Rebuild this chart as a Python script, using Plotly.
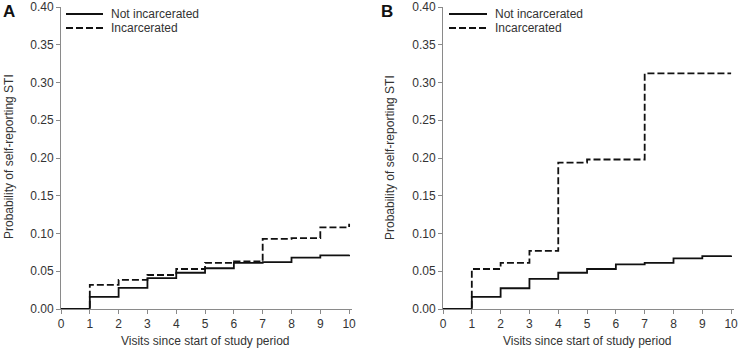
import plotly.graph_objects as go

visits = [0, 1, 2, 3, 4, 5, 6, 7, 8, 9, 10]
x_ticks = [0, 1, 2, 3, 4, 5, 6, 7, 8, 9, 10]
y_ticks = [0.00, 0.05, 0.10, 0.15, 0.20, 0.25, 0.30, 0.35, 0.40]

# Panel A
a_not_incarcerated = [0, 0.016, 0.028, 0.041, 0.048, 0.054, 0.061, 0.062, 0.068, 0.071, 0.072]
a_incarcerated = [0, 0.032, 0.0385, 0.045, 0.053, 0.061, 0.063, 0.093, 0.094, 0.108, 0.113]
# Panel B
b_not_incarcerated = [0, 0.016, 0.0275, 0.040, 0.048, 0.053, 0.059, 0.061, 0.067, 0.070, 0.071]
b_incarcerated = [0, 0.053, 0.061, 0.077, 0.194, 0.198, 0.198, 0.312, 0.312, 0.312, 0.312]

series_names = ["Not incarcerated", "Incarcerated"]
panel_letters = ["A", "B"]
x_title = "Visits since start of study period"
y_title = "Probability of self-reporting STI"

W, H = 740, 356
FONT = "Liberation Sans, Arial, sans-serif"
AXIS_COLOR = "#8a8a8a"
TEXT_COLOR = "#333333"
LINE_COLOR = "#111111"
DASH = "7px,3px"
LW = 1.8

fig = go.Figure()

panels = [
    ("x", "y", a_not_incarcerated, a_incarcerated),
    ("x2", "y2", b_not_incarcerated, b_incarcerated),
]
for xa, ya, solid, dashed in panels:
    fig.add_trace(go.Scatter(
        x=visits, y=solid, mode="lines", line=dict(shape="hv", color=LINE_COLOR, width=LW),
        name=series_names[0], xaxis=xa, yaxis=ya, cliponaxis=False, showlegend=False))
    fig.add_trace(go.Scatter(
        x=visits, y=dashed, mode="lines", line=dict(shape="hv", color=LINE_COLOR, width=LW, dash=DASH),
        name=series_names[1], xaxis=xa, yaxis=ya, cliponaxis=False, showlegend=False))

# pixel-based domains
ax_a = (61, 352)
ax_b = (443, 734)
y_dom = ((H - 309) / H, (H - 7) / H)

def xaxis(dom, anchor):
    return dict(domain=[dom[0] / W, dom[1] / W], range=[0, 10.1], anchor=anchor, automargin=False,
                tickmode="array", tickvals=x_ticks, ticktext=[str(v) for v in x_ticks],
                showline=True, linecolor=AXIS_COLOR, linewidth=1,
                ticks="outside", ticklen=4, tickcolor=AXIS_COLOR, tickwidth=1,
                showgrid=False, zeroline=False, ticklabeloverflow="allow",
                tickfont=dict(family=FONT, size=12, color=TEXT_COLOR))

def yaxis(anchor):
    return dict(domain=list(y_dom), range=[0, 0.4], anchor=anchor, automargin=False,
                tickmode="array", tickvals=y_ticks, ticktext=[f"{v:.2f}" for v in y_ticks],
                showline=True, linecolor=AXIS_COLOR, linewidth=1,
                ticks="outside", ticklen=4, tickcolor=AXIS_COLOR, tickwidth=1,
                showgrid=False, zeroline=False, ticklabeloverflow="allow",
                tickfont=dict(family=FONT, size=12, color=TEXT_COLOR))

fig.update_layout(
    template="none",
    width=W, height=H,
    margin=dict(l=0, r=0, t=0, b=0, pad=0),
    paper_bgcolor="white", plot_bgcolor="white",
    font=dict(family=FONT, size=12, color=TEXT_COLOR),
    showlegend=False,
    xaxis=xaxis(ax_a, "y"), yaxis=yaxis("x"),
    xaxis2=xaxis(ax_b, "y2"), yaxis2=yaxis("x2"),
)

annotations = []
shapes = []
# panel letters
for px, letter in [(9, panel_letters[0]), (387, panel_letters[1])]:
    annotations.append(dict(text=f"<b>{letter}</b>", x=px / W, y=1 - 11 / H, xref="paper", yref="paper",
                            xanchor="center", yanchor="middle", showarrow=False,
                            font=dict(family=FONT, size=17, color="#111111")))
# y titles
for px in [9, 390]:
    annotations.append(dict(text=y_title, x=px / W, y=1 - 157 / H, xref="paper", yref="paper",
                            xanchor="center", yanchor="middle", showarrow=False, textangle=-90,
                            font=dict(family=FONT, size=12, color=TEXT_COLOR)))
# x titles
for dom in [ax_a, ax_b]:
    cx = (dom[0] + dom[1] - 3) / 2
    annotations.append(dict(text=x_title, x=cx / W, y=1 - 341 / H, xref="paper", yref="paper",
                            xanchor="center", yanchor="middle", showarrow=False,
                            font=dict(family=FONT, size=12, color=TEXT_COLOR)))
# legends (sample lines + labels)
for x0, x1, tx in [(66, 103, 109), (449, 487, 493)]:
    for row_y, name, dash in [(14, series_names[0], "solid"), (28, series_names[1], DASH)]:
        shapes.append(dict(type="line", xref="paper", yref="paper",
                           x0=x0 / W, x1=x1 / W, y0=1 - row_y / H, y1=1 - row_y / H,
                           line=dict(color=LINE_COLOR, width=LW, dash=dash)))
        annotations.append(dict(text=name, x=tx / W, y=1 - row_y / H, xref="paper", yref="paper",
                                xanchor="left", yanchor="middle", showarrow=False,
                                font=dict(family=FONT, size=12, color=TEXT_COLOR)))

fig.update_layout(annotations=annotations, shapes=shapes)

fig.write_html("out.html", config={"displayModeBar": False},
               post_script="document.body.style.margin='0';")
